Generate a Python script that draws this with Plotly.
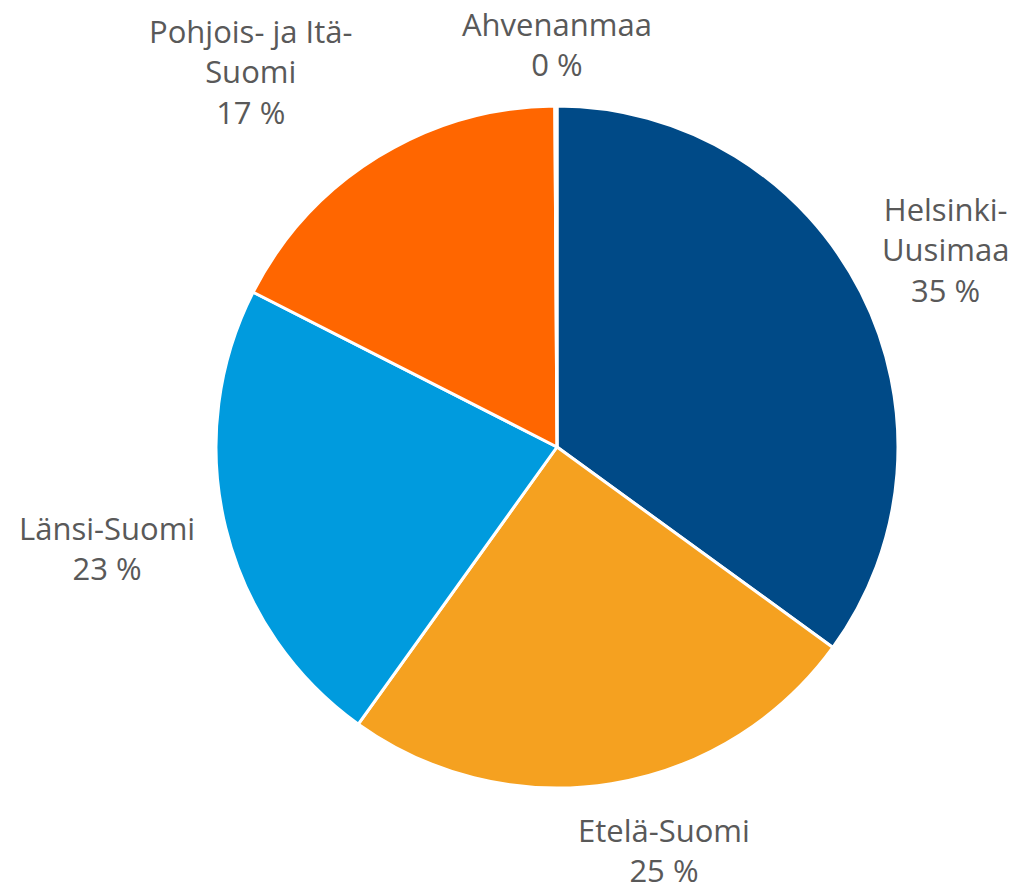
import plotly.graph_objects as go

# Regional shares (%), listed clockwise from 12 o'clock
regions = ["Helsinki-<br>Uusimaa", "Etelä-Suomi", "Länsi-Suomi", "Pohjois- ja Itä-<br>Suomi", "Ahvenanmaa"]
shares = [35.0, 24.9, 22.6, 17.4, 0.1]
colors = ["#004A87", "#F5A120", "#009BDE", "#FF6600", "#A5A5A5"]

# Label centres in plot-area (paper) units, one per region
label_x = [1.069, 0.657, -0.160, 0.050, 0.500]
label_y = [0.789, -0.091, 0.352, 1.050, 1.091]

fig = go.Figure(
    go.Pie(
        labels=[r.replace("<br>", "") for r in regions],
        values=shares,
        textinfo="none",
        sort=False,
        direction="clockwise",
        rotation=0,
        marker=dict(colors=colors, line=dict(color="white", width=3)),
        showlegend=False,
        hoverinfo="label+percent",
    )
)

for name, v, x, y in zip(regions, shares, label_x, label_y):
    fig.add_annotation(
        text=f"{name}<br>{round(v)} %",
        x=x,
        y=y,
        xref="paper",
        yref="paper",
        xanchor="center",
        yanchor="middle",
        showarrow=False,
        font=dict(family="Open Sans", size=31, color="#595959"),
        align="center",
    )

fig.update_layout(
    width=1026,
    height=891,
    margin=dict(l=216, r=128, t=106, b=103),
    paper_bgcolor="white",
    plot_bgcolor="white",
)

fig.write_html("out.html")
